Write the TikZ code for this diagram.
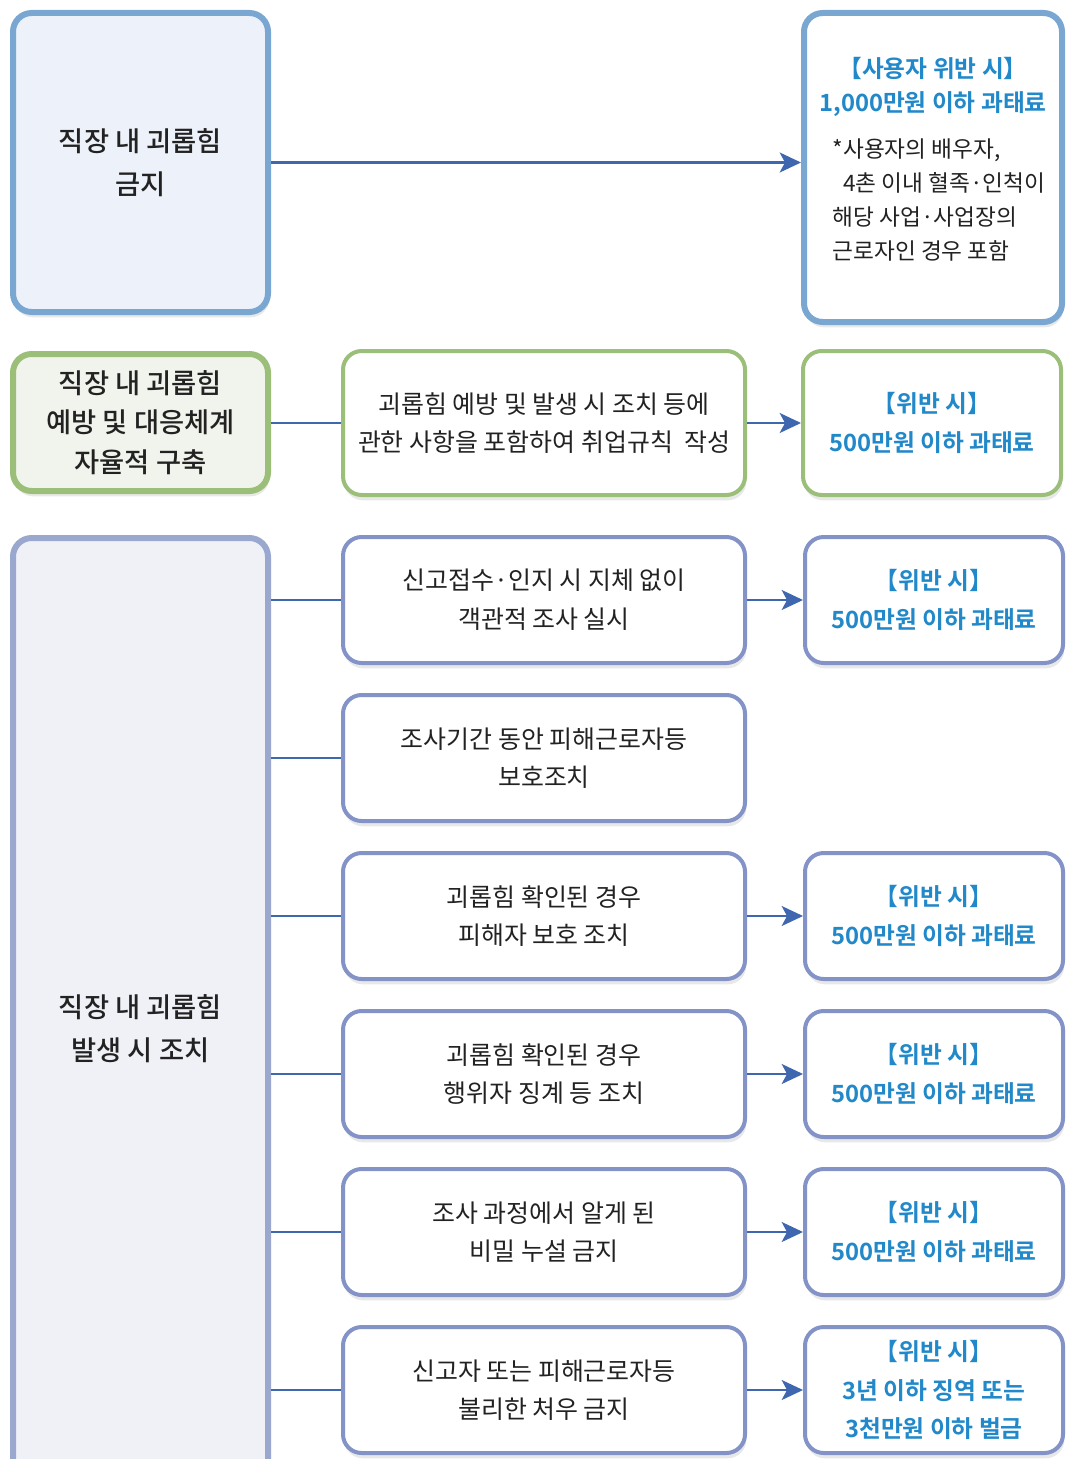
\documentclass[tikz,border=0pt]{standalone}
\usepackage{fontspec}
\setmainfont{Noto Sans CJK KR}[BoldFont=* Bold]
\newfontfamily\medfont{Noto Sans CJK KR}[UprightFont=* Medium]
\usepackage{xcolor}
\usepackage{tikz}
\usetikzlibrary{shapes,arrows.meta,positioning,shadows}
\definecolor{bluedge}{HTML}{7AA6D2}
\definecolor{bluefill}{HTML}{EDF1F9}
\definecolor{greenedge}{HTML}{9BBE78}
\definecolor{greenfill}{HTML}{F1F4EC}
\definecolor{violetedge}{HTML}{9AA8D0}
\definecolor{violetline}{HTML}{8393C8}
\definecolor{violetfill}{HTML}{F0F1F7}
\definecolor{linkblue}{HTML}{3E67B0}
\definecolor{fineblue}{HTML}{2188C9}
\definecolor{ink}{HTML}{222222}
\newcommand{\headfont}{\medfont\fontsize{20.5pt}{32pt}\selectfont}
\newcommand{\bodyfont}{\fontsize{18.7pt}{29pt}\selectfont}
\newcommand{\finefont}{\fontsize{17.8pt}{29pt}\selectfont\bfseries}
\newcommand{\notefont}{\fontsize{17pt}{25.5pt}\selectfont}
\tikzstyle{block} = [rectangle, draw, rounded corners=14pt, align=center,
    inner sep=0pt, text=ink,
    drop shadow={opacity=0.18, shadow xshift=1pt, shadow yshift=-4pt}]
\tikzstyle{headbox} = [block, line width=4.5pt, minimum width=191.25pt, font=\headfont]
\tikzstyle{actbox} = [block, line width=3pt, fill=white, minimum width=301.5pt,
    minimum height=94.5pt, font=\bodyfont]
\tikzstyle{finebox} = [block, line width=3pt, fill=white, minimum width=193.5pt,
    minimum height=94.5pt, font=\finefont, text=fineblue]
\tikzstyle{line} = [draw, line width=1.6pt, linkblue]
\tikzstyle{arrow} = [line, -{Stealth[length=16pt,width=15pt,inset=4pt]}]

\begin{document}
\begin{tikzpicture}[x=0.75pt, y=-0.75pt]
    \useasboundingbox (0,0) rectangle (1068,1459);
    % Place nodes
    \node [headbox, draw=bluedge, fill=bluefill, minimum height=224.25pt,
        anchor=north west] (ban) at (10,10) {직장 내 괴롭힘\\금지};
    \node [finebox, draw=bluedge, line width=4.5pt, minimum height=231.75pt,
        font=\notefont, text=ink, anchor=north west] (banfine) at (801,10)
        {\begin{tabular}{@{}c@{}}
            {\finefont\color{fineblue} 【사용자 위반 시】}\\
            {\finefont\color{fineblue} 1,000만원 이하 과태료}\\[9pt]
            \hspace*{9pt}\begin{tabular}{@{}l@{}}
                *사용자의 배우자,\\
                \phantom{*}4촌 이내 혈족·인척이\\
                해당 사업·사업장의\\
                근로자인 경우 포함
            \end{tabular}\\[-17pt]
            \mbox{}
        \end{tabular}};
    \node [headbox, draw=greenedge, fill=greenfill, minimum height=102.75pt,
        font=\medfont\fontsize{20.5pt}{29.5pt}\selectfont, below=27pt of ban] (prevent)
        {직장 내 괴롭힘\\예방 및 대응체계\\자율적 구축};
    \node [actbox, draw=greenedge, minimum height=108pt, anchor=north west]
        (rules) at (341,349) {괴롭힘 예방 및 발생 시 조치 등에\\관한 사항을 포함하여 취업규칙\ \ 작성};
    \node [finebox, draw=greenedge, minimum height=108pt, right=40.5pt of rules]
        (rulesfine) {【위반 시】\\500만원 이하 과태료};
    \node [headbox, draw=violetedge, fill=violetfill, minimum height=736.5pt,
        anchor=north west] (occur) at (10,535) {직장 내 괴롭힘\\발생 시 조치};
    \node [actbox, draw=violetline, anchor=north west] (probe) at (341,535)
        {신고접수·인지 시 지체 없이\\객관적 조사 실시};
    \node [actbox, draw=violetline, below=21pt of probe] (shield)
        {조사기간 동안 피해근로자등\\보호조치};
    \node [actbox, draw=violetline, below=21pt of shield] (victim)
        {괴롭힘 확인된 경우\\피해자 보호 조치};
    \node [actbox, draw=violetline, below=21pt of victim] (punish)
        {괴롭힘 확인된 경우\\행위자 징계 등 조치};
    \node [actbox, draw=violetline, below=21pt of punish] (secret)
        {조사 과정에서 알게 된\\비밀 누설 금지};
    \node [actbox, draw=violetline, below=21pt of secret] (unfair)
        {신고자 또는 피해근로자등\\불리한 처우 금지};
    \node [finebox, draw=violetline, right=42pt of probe] (probefine)
        {【위반 시】\\500만원 이하 과태료};
    \node [finebox, draw=violetline, right=42pt of victim] (victimfine)
        {【위반 시】\\500만원 이하 과태료};
    \node [finebox, draw=violetline, right=42pt of punish] (punishfine)
        {【위반 시】\\500만원 이하 과태료};
    \node [finebox, draw=violetline, right=42pt of secret] (secretfine)
        {【위반 시】\\500만원 이하 과태료};
    \node [finebox, draw=violetline, right=42pt of unfair] (unfairfine)
        {【위반 시】\\3년 이하 징역 또는\\3천만원 이하 벌금};
    % Draw edges
    \path [arrow] (ban.east) -- (ban.east -| banfine.west);
    \path [line] (prevent.east |- rules.west) -- (rules.west);
    \path [arrow] (rules) -- (rulesfine);
    \foreach \step in {probe,shield,victim,punish,secret,unfair}
        \path [line] (occur.east |- \step.west) -- (\step.west);
    \foreach \step in {probe,victim,punish,secret,unfair}
        \path [arrow] (\step) -- (\step fine);
\end{tikzpicture}
\end{document}
